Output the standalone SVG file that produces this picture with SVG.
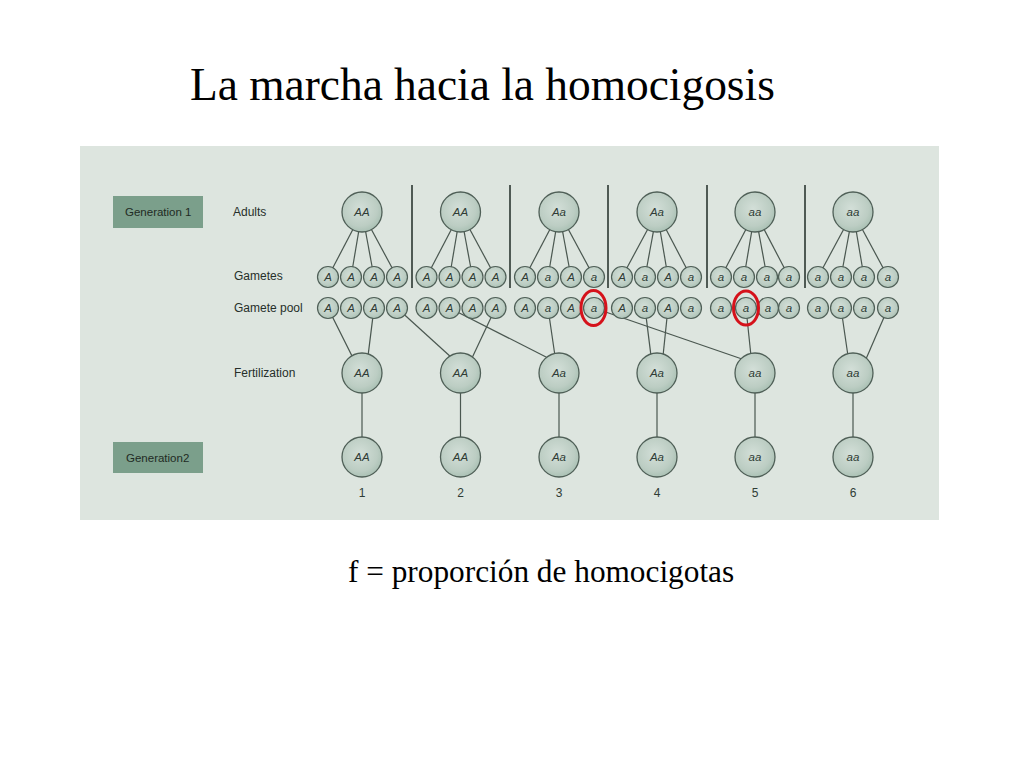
<svg xmlns="http://www.w3.org/2000/svg" width="1024" height="768" viewBox="0 0 1024 768">
<defs>
<radialGradient id="cg" cx="0.45" cy="0.42" r="0.62">
<stop offset="0" stop-color="#d3dfd8"/>
<stop offset="0.7" stop-color="#bccdc3"/>
<stop offset="1" stop-color="#a6beb1"/>
</radialGradient>
<style>
.big{fill:url(#cg);stroke:#4f5f57;stroke-width:1.3}
.sm{fill:url(#cg);stroke:#4f5f57;stroke-width:1.2}
.al{font-family:"Liberation Sans","DejaVu Sans",sans-serif;font-style:italic;font-size:11.5px;fill:#2f3c35;text-anchor:middle}
.lab{font-family:"Liberation Sans","DejaVu Sans",sans-serif;font-size:12px;fill:#262f2a}
.gen{font-family:"Liberation Sans","DejaVu Sans",sans-serif;font-size:11.5px;fill:#1f2b24}
.num{font-family:"Liberation Sans","DejaVu Sans",sans-serif;font-size:12px;fill:#2f3c35;text-anchor:middle}
.ln{stroke:#4a5750;stroke-width:1.2;fill:none}
.sep{stroke:#4f5a54;stroke-width:2}
.red{fill:none;stroke:#d5121b;stroke-width:3}
.box{fill:#7b9f8b}
</style>
</defs>
<rect width="1024" height="768" fill="#ffffff"/>
<text x="190" y="100" font-family="'Liberation Serif','Times New Roman',serif" font-size="45.4" fill="#000">La marcha hacia la homocigosis</text>
<rect x="80" y="146" width="859" height="374" fill="#dde5df"/>
<g id="labels">
<g id="gen1"><rect class="box" x="113" y="196" width="90" height="32"/><text class="gen" x="125" y="216">Generation 1</text></g>
<g id="gen2"><rect class="box" x="113" y="442" width="90" height="31"/><text class="gen" x="126" y="462">Generation2</text></g>
<text class="lab" x="233" y="216">Adults</text>
<text class="lab" x="234" y="280">Gametes</text>
<text class="lab" x="234" y="312">Gamete pool</text>
<text class="lab" x="234" y="377">Fertilization</text>
</g>
<g id="connectors">
<line class="sep" x1="412" y1="185" x2="412" y2="288"/>
<line class="sep" x1="510" y1="185" x2="510" y2="288"/>
<line class="sep" x1="608" y1="185" x2="608" y2="288"/>
<line class="sep" x1="707" y1="185" x2="707" y2="288"/>
<line class="sep" x1="805" y1="185" x2="805" y2="288"/>
<line class="ln" x1="362" y1="212" x2="328" y2="277"/><line class="ln" x1="362" y1="212" x2="351" y2="277"/><line class="ln" x1="362" y1="212" x2="374" y2="277"/><line class="ln" x1="362" y1="212" x2="397" y2="277"/>
<line class="ln" x1="460.5" y1="212" x2="426.5" y2="277"/><line class="ln" x1="460.5" y1="212" x2="449.5" y2="277"/><line class="ln" x1="460.5" y1="212" x2="472.5" y2="277"/><line class="ln" x1="460.5" y1="212" x2="495.5" y2="277"/>
<line class="ln" x1="559" y1="212" x2="525" y2="277"/><line class="ln" x1="559" y1="212" x2="548" y2="277"/><line class="ln" x1="559" y1="212" x2="571" y2="277"/><line class="ln" x1="559" y1="212" x2="594" y2="277"/>
<line class="ln" x1="657" y1="212" x2="622" y2="277"/><line class="ln" x1="657" y1="212" x2="645" y2="277"/><line class="ln" x1="657" y1="212" x2="668" y2="277"/><line class="ln" x1="657" y1="212" x2="691" y2="277"/>
<line class="ln" x1="755" y1="212" x2="721" y2="277"/><line class="ln" x1="755" y1="212" x2="744" y2="277"/><line class="ln" x1="755" y1="212" x2="767" y2="277"/><line class="ln" x1="755" y1="212" x2="789" y2="277"/>
<line class="ln" x1="853" y1="212" x2="818" y2="277"/><line class="ln" x1="853" y1="212" x2="841" y2="277"/><line class="ln" x1="853" y1="212" x2="864" y2="277"/><line class="ln" x1="853" y1="212" x2="888" y2="277"/>
<line class="ln" x1="328" y1="308" x2="353" y2="358"/><line class="ln" x1="374" y1="308" x2="368" y2="356"/>
<line class="ln" x1="397" y1="308" x2="452" y2="358"/><line class="ln" x1="495.5" y1="308" x2="472" y2="358"/>
<line class="ln" x1="449.5" y1="308" x2="548" y2="358"/><line class="ln" x1="548" y1="308" x2="555" y2="356"/>
<line class="ln" x1="645" y1="308" x2="651" y2="356"/><line class="ln" x1="668" y1="308" x2="663" y2="356"/>
<line class="ln" x1="594" y1="308" x2="742" y2="359"/><line class="ln" x1="746" y1="308" x2="751" y2="356"/>
<line class="ln" x1="841" y1="308" x2="848" y2="356"/><line class="ln" x1="888" y1="308" x2="866" y2="359"/>
<line class="ln" x1="362" y1="373" x2="362" y2="457"/>
<line class="ln" x1="460.5" y1="373" x2="460.5" y2="457"/>
<line class="ln" x1="559" y1="373" x2="559" y2="457"/>
<line class="ln" x1="657" y1="373" x2="657" y2="457"/>
<line class="ln" x1="755" y1="373" x2="755" y2="457"/>
<line class="ln" x1="853" y1="373" x2="853" y2="457"/>
</g>
<g id="adults">
<g id="ad1"><circle class="big" cx="362" cy="212" r="20"/><text class="al" x="362" y="216">AA</text></g>
<g id="ad2"><circle class="big" cx="460.5" cy="212" r="20"/><text class="al" x="460.5" y="216">AA</text></g>
<g id="ad3"><circle class="big" cx="559" cy="212" r="20"/><text class="al" x="559" y="216">Aa</text></g>
<g id="ad4"><circle class="big" cx="657" cy="212" r="20"/><text class="al" x="657" y="216">Aa</text></g>
<g id="ad5"><circle class="big" cx="755" cy="212" r="20"/><text class="al" x="755" y="216">aa</text></g>
<g id="ad6"><circle class="big" cx="853" cy="212" r="20"/><text class="al" x="853" y="216">aa</text></g>
</g>
<g id="gametes">
<g id="g1a"><circle class="sm" cx="328" cy="277" r="10.5"/><text class="al" x="328" y="281">A</text></g>
<g id="g1b"><circle class="sm" cx="351" cy="277" r="10.5"/><text class="al" x="351" y="281">A</text></g>
<g id="g1c"><circle class="sm" cx="374" cy="277" r="10.5"/><text class="al" x="374" y="281">A</text></g>
<g id="g1d"><circle class="sm" cx="397" cy="277" r="10.5"/><text class="al" x="397" y="281">A</text></g>
<g id="g2a"><circle class="sm" cx="426.5" cy="277" r="10.5"/><text class="al" x="426.5" y="281">A</text></g>
<g id="g2b"><circle class="sm" cx="449.5" cy="277" r="10.5"/><text class="al" x="449.5" y="281">A</text></g>
<g id="g2c"><circle class="sm" cx="472.5" cy="277" r="10.5"/><text class="al" x="472.5" y="281">A</text></g>
<g id="g2d"><circle class="sm" cx="495.5" cy="277" r="10.5"/><text class="al" x="495.5" y="281">A</text></g>
<g id="g3a"><circle class="sm" cx="525" cy="277" r="10.5"/><text class="al" x="525" y="281">A</text></g>
<g id="g3b"><circle class="sm" cx="548" cy="277" r="10.5"/><text class="al" x="548" y="281">a</text></g>
<g id="g3c"><circle class="sm" cx="571" cy="277" r="10.5"/><text class="al" x="571" y="281">A</text></g>
<g id="g3d"><circle class="sm" cx="594" cy="277" r="10.5"/><text class="al" x="594" y="281">a</text></g>
<g id="g4a"><circle class="sm" cx="622" cy="277" r="10.5"/><text class="al" x="622" y="281">A</text></g>
<g id="g4b"><circle class="sm" cx="645" cy="277" r="10.5"/><text class="al" x="645" y="281">a</text></g>
<g id="g4c"><circle class="sm" cx="668" cy="277" r="10.5"/><text class="al" x="668" y="281">A</text></g>
<g id="g4d"><circle class="sm" cx="691" cy="277" r="10.5"/><text class="al" x="691" y="281">a</text></g>
<g id="g5a"><circle class="sm" cx="721" cy="277" r="10.5"/><text class="al" x="721" y="281">a</text></g>
<g id="g5b"><circle class="sm" cx="744" cy="277" r="10.5"/><text class="al" x="744" y="281">a</text></g>
<g id="g5c"><circle class="sm" cx="767" cy="277" r="10.5"/><text class="al" x="767" y="281">a</text></g>
<g id="g5d"><circle class="sm" cx="789" cy="277" r="10.5"/><text class="al" x="789" y="281">a</text></g>
<g id="g6a"><circle class="sm" cx="818" cy="277" r="10.5"/><text class="al" x="818" y="281">a</text></g>
<g id="g6b"><circle class="sm" cx="841" cy="277" r="10.5"/><text class="al" x="841" y="281">a</text></g>
<g id="g6c"><circle class="sm" cx="864" cy="277" r="10.5"/><text class="al" x="864" y="281">a</text></g>
<g id="g6d"><circle class="sm" cx="888" cy="277" r="10.5"/><text class="al" x="888" y="281">a</text></g>
</g>
<g id="pool">
<g id="p1a"><circle class="sm" cx="328" cy="308" r="10.5"/><text class="al" x="328" y="312">A</text></g>
<g id="p1b"><circle class="sm" cx="351" cy="308" r="10.5"/><text class="al" x="351" y="312">A</text></g>
<g id="p1c"><circle class="sm" cx="374" cy="308" r="10.5"/><text class="al" x="374" y="312">A</text></g>
<g id="p1d"><circle class="sm" cx="397" cy="308" r="10.5"/><text class="al" x="397" y="312">A</text></g>
<g id="p2a"><circle class="sm" cx="426.5" cy="308" r="10.5"/><text class="al" x="426.5" y="312">A</text></g>
<g id="p2b"><circle class="sm" cx="449.5" cy="308" r="10.5"/><text class="al" x="449.5" y="312">A</text></g>
<g id="p2c"><circle class="sm" cx="472.5" cy="308" r="10.5"/><text class="al" x="472.5" y="312">A</text></g>
<g id="p2d"><circle class="sm" cx="495.5" cy="308" r="10.5"/><text class="al" x="495.5" y="312">A</text></g>
<g id="p3a"><circle class="sm" cx="525" cy="308" r="10.5"/><text class="al" x="525" y="312">A</text></g>
<g id="p3b"><circle class="sm" cx="548" cy="308" r="10.5"/><text class="al" x="548" y="312">a</text></g>
<g id="p3c"><circle class="sm" cx="571" cy="308" r="10.5"/><text class="al" x="571" y="312">A</text></g>
<g id="p3d"><circle class="sm" cx="594" cy="308" r="10.5"/><text class="al" x="594" y="312">a</text></g>
<g id="p4a"><circle class="sm" cx="622" cy="308" r="10.5"/><text class="al" x="622" y="312">A</text></g>
<g id="p4b"><circle class="sm" cx="645" cy="308" r="10.5"/><text class="al" x="645" y="312">a</text></g>
<g id="p4c"><circle class="sm" cx="668" cy="308" r="10.5"/><text class="al" x="668" y="312">A</text></g>
<g id="p4d"><circle class="sm" cx="691" cy="308" r="10.5"/><text class="al" x="691" y="312">a</text></g>
<g id="p5a"><circle class="sm" cx="721" cy="308" r="10.5"/><text class="al" x="721" y="312">a</text></g>
<g id="p5b"><circle class="sm" cx="746" cy="308" r="10.5"/><text class="al" x="746" y="312">a</text></g>
<g id="p5c"><circle class="sm" cx="768" cy="308" r="10.5"/><text class="al" x="768" y="312">a</text></g>
<g id="p5d"><circle class="sm" cx="789" cy="308" r="10.5"/><text class="al" x="789" y="312">a</text></g>
<g id="p6a"><circle class="sm" cx="818" cy="308" r="10.5"/><text class="al" x="818" y="312">a</text></g>
<g id="p6b"><circle class="sm" cx="841" cy="308" r="10.5"/><text class="al" x="841" y="312">a</text></g>
<g id="p6c"><circle class="sm" cx="864" cy="308" r="10.5"/><text class="al" x="864" y="312">a</text></g>
<g id="p6d"><circle class="sm" cx="888" cy="308" r="10.5"/><text class="al" x="888" y="312">a</text></g>
<ellipse class="red" cx="593.5" cy="308" rx="12.5" ry="17.5"/>
<ellipse class="red" cx="746" cy="308" rx="12.5" ry="17"/>
</g>
<g id="fertilization">
<g id="f1"><circle class="big" cx="362" cy="373" r="20"/><text class="al" x="362" y="377">AA</text></g>
<g id="f2"><circle class="big" cx="460.5" cy="373" r="20"/><text class="al" x="460.5" y="377">AA</text></g>
<g id="f3"><circle class="big" cx="559" cy="373" r="20"/><text class="al" x="559" y="377">Aa</text></g>
<g id="f4"><circle class="big" cx="657" cy="373" r="20"/><text class="al" x="657" y="377">Aa</text></g>
<g id="f5"><circle class="big" cx="755" cy="373" r="20"/><text class="al" x="755" y="377">aa</text></g>
<g id="f6"><circle class="big" cx="853" cy="373" r="20"/><text class="al" x="853" y="377">aa</text></g>
</g>
<g id="generation2">
<g id="n1"><circle class="big" cx="362" cy="457" r="20"/><text class="al" x="362" y="461">AA</text><text class="num" x="362" y="497">1</text></g>
<g id="n2"><circle class="big" cx="460.5" cy="457" r="20"/><text class="al" x="460.5" y="461">AA</text><text class="num" x="460.5" y="497">2</text></g>
<g id="n3"><circle class="big" cx="559" cy="457" r="20"/><text class="al" x="559" y="461">Aa</text><text class="num" x="559" y="497">3</text></g>
<g id="n4"><circle class="big" cx="657" cy="457" r="20"/><text class="al" x="657" y="461">Aa</text><text class="num" x="657" y="497">4</text></g>
<g id="n5"><circle class="big" cx="755" cy="457" r="20"/><text class="al" x="755" y="461">aa</text><text class="num" x="755" y="497">5</text></g>
<g id="n6"><circle class="big" cx="853" cy="457" r="20"/><text class="al" x="853" y="461">aa</text><text class="num" x="853" y="497">6</text></g>
</g>
<text x="348" y="582" font-family="'Liberation Serif','Times New Roman',serif" font-size="31.3" fill="#000">f = proporción de homocigotas</text>
</svg>
